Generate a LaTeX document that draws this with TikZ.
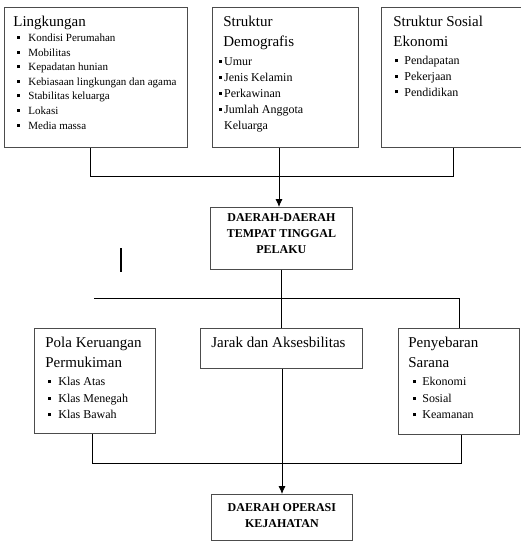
\documentclass[tikz,border=0pt]{standalone}
\usepackage{fontspec}
\setmainfont{Liberation Serif}
\usetikzlibrary{positioning}
\usetikzlibrary{arrows.meta}

\newlength\bulind
\newlength\txtind
\newcommand{\bul}{\rule[0.22em]{3pt}{3pt}}
\newcommand{\itm}[1]{\hspace*{\bulind}\bul\hspace*{\dimexpr\txtind-\bulind-3pt\relax}#1\par}
\newcommand{\isi}[3]{\parbox[c][#2][t]{#1}{\raggedright #3}}
\newcommand{\judul}{\fontsize{15}{20}\selectfont}

\begin{document}
\begin{tikzpicture}[x=1pt, y=-1pt,
    kotak/.style={draw=black!70, line width=0.8pt, rectangle, anchor=north west, inner xsep=5pt, inner ysep=9pt},
    tebal/.style={kotak, inner ysep=6pt},
    garis/.style={line width=0.8pt},
    panah/.style={garis, -{Latex[length=8pt,width=7pt]}}]
    \useasboundingbox (0,0) rectangle (520,541);
    % Kotak atas
    \node[kotak] (ling) at (4,7) {\isi{173pt}{122pt}{%
        {\judul\hspace*{4pt}Lingkungan\par}
        \fontsize{11}{14.6}\selectfont\setlength\bulind{8pt}\setlength\txtind{19pt}%
        \itm{Kondisi Perumahan}
        \itm{Mobilitas}
        \itm{Kepadatan hunian}
        \itm{Kebiasaan lingkungan dan agama}
        \itm{Stabilitas keluarga}
        \itm{Lokasi}
        \itm{Media massa}}};
    \node[kotak] (demo) at (212,7) {\isi{136pt}{122pt}{%
        {\judul\hspace*{6pt}Struktur\\\hspace*{6pt}Demografis\par}\vspace{2.5pt}
        \fontsize{12}{16}\selectfont\setlength\bulind{1.2pt}\setlength\txtind{6.8pt}%
        \itm{Umur}
        \itm{Jenis Kelamin}
        \itm{Perkawinan}
        \itm{Jumlah Anggota\\\hspace*{\txtind}Keluarga}}};
    \node[kotak] (sosial) at (381,7) {\isi{130pt}{122pt}{%
        {\judul\hspace*{7pt}Struktur Sosial\\\hspace*{7pt}Ekonomi\par}\vspace{2.5pt}
        \fontsize{12}{15.6}\selectfont\setlength\bulind{9pt}\setlength\txtind{18pt}%
        \itm{Pendapatan}
        \itm{Pekerjaan}
        \itm{Pendidikan}}};
    % Kotak tengah
    \node[tebal] (tinggal) at (210,207) {\isi{132pt}{50pt}{\centering
        \bfseries\fontsize{12}{16}\selectfont DAERAH-DAERAH\\TEMPAT TINGGAL\\PELAKU}};
    % Kotak bawah
    \node[kotak] (pola) at (34,328) {\isi{111pt}{87pt}{%
        {\judul\hspace*{6pt}Pola Keruangan\\\hspace*{6pt}Permukiman\par}\vspace{1.5pt}
        \fontsize{12}{16.5}\selectfont\setlength\bulind{9pt}\setlength\txtind{19pt}%
        \itm{Klas Atas}
        \itm{Klas Menegah}
        \itm{Klas Bawah}}};
    \node[kotak] (jarak) at (200,328) {\isi{152pt}{22pt}{%
        {\judul\hspace*{6pt}Jarak dan Aksesbilitas\par}}};
    \node[kotak] (sarana) at (398,328) {\isi{111pt}{88pt}{%
        {\judul\hspace*{5pt}Penyebaran\\\hspace*{5pt}Sarana\par}\vspace{1.5pt}
        \fontsize{12}{16.5}\selectfont\setlength\bulind{10pt}\setlength\txtind{19pt}%
        \itm{Ekonomi}
        \itm{Sosial}
        \itm{Keamanan}}};
    \node[kotak] (operasi) at (211,494) {\isi{131pt}{28pt}{\centering
        \bfseries\fontsize{12}{16}\selectfont DAERAH OPERASI\\KEJAHATAN}};

    % Titik sambung
    \coordinate (a1) at (90,176);
    \coordinate (a2) at (453,176);
    \coordinate (a3) at (279,176);
    \coordinate (t1) at (94,298);
    \coordinate (t2) at (281,298);
    \coordinate (b1) at (92,463);
    \coordinate (b2) at (461,463);
    \coordinate (b3) at (282,463);
    \coordinate (g1) at (121,248);
    \coordinate (g2) at (121,272);

    % Garis
    \draw[garis] (a1 |- ling.south) -- (a1) -- (a2) -- (a2 |- sosial.south);
    \draw[panah] (a3 |- demo.south) -- (a3 |- tinggal.north);
    \draw[garis] (t2 |- tinggal.south) -- (t2 |- jarak.north);
    \draw[garis] (t1) -- (t1 -| sarana.north) -- (sarana.north);
    \draw[garis] (b1 |- pola.south) -- (b1) -- (b2) -- (b2 |- sarana.south);
    \draw[panah] (b3 |- jarak.south) -- (b3 |- operasi.north);
    \draw[line width=1.5pt] (g1) -- (g2);
\end{tikzpicture}
\end{document}
